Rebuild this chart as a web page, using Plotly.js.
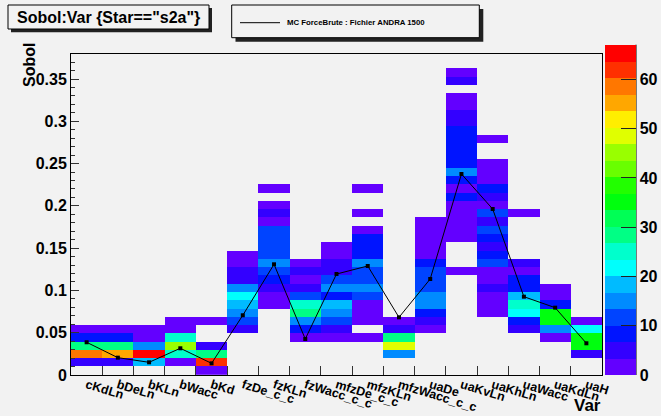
<!DOCTYPE html>
<html>
<head>
<meta charset="utf-8">
<script src="https://cdn.plot.ly/plotly-3.0.1.min.js"></script>
<style>
  html, body { margin: 0; padding: 0; background: #f2f2f2; }
  #chart { width: 661px; height: 416px; }
</style>
</head>
<body>
<div id="chart"></div>
<script>
// Variables on the x axis (one column each)
const vars = ['cKdLn', 'bDeLn', 'bKLn', 'bWacc', 'bKd', 'fzDe_c_c', 'fzKLn', 'fzWacc_c_c',
              'mfzDe_c_c', 'mfzKLn', 'mfzWacc_c_c', 'uaDe', 'uaKvLn', 'uaKhLn', 'uaWacc',
              'uaKdLn', 'uaH'];

// Sobol axis binning
const sobolBinWidth = 0.0098;
const nSobolBins = 39;

// Entries per Sobol bin, from bin 0 upward (null = empty bin)
const n_cKdLn      = [null, 5, 59, 28, 8, 2];
const n_bDeLn      = [null, 5, 55, 28, 8, 2];
const n_bKLn       = [null, 18, 65, 15, 2, 2];
const n_bWacc      = [null, 2, 25, 45, 25, 2, 2];
const n_bKd        = [2, 62, 28, 5, null, null, 2];
const n_fzDe_c_c   = [null, null, null, null, null, 5, 12, 15, 18, 22, 15, 5, 5, 2, 2];
const n_fzKLn      = [null, null, null, null, null, null, null, null, 2, 2, 5, 8, 12, 15, 12, 12, 12, 12, 2, 5, 2, null, 2];
const n_fzWacc_c_c = [null, null, null, null, 2, 8, 15, 28, 25, 12, 5, 2, 5, 2];
const n_mfzDe_c_c  = [null, null, null, null, 2, 5, 12, 15, 18, 8, 15, 12, 5, 5, 2, 2];
const n_mfzKLn     = [null, null, null, null, 2, null, 2, 2, 2, 12, 15, 12, 12, 15, 8, 8, 8, 2, null, 2, null, null, 2];
const n_mfzWacc_c_c= [null, null, 15, 49, 28, 5, 2];
const n_uaDe       = [null, null, null, null, null, 2, 5, 8, 15, 15, 12, 12, 12, 8, 2, 2, 2, 2, 2];
const n_uaKvLn     = [null, null, null, null, null, null, null, null, null, null, null, null, 2, null, null, null,
                      2, 2, 2, 2, 2, 8, 2, 8, 15, 8, 8, 8, 8, 8, 5, 5, 2, 2, null, 5, 2];
const n_uaKhLn     = [null, null, null, null, null, null, null, 2, 2, 2, 5, 2, 2, 12, 8, 5, 8, 12, 5, 12, 2, 5, 8, 2, 2, 2, null, null, 2];
const n_uaWacc     = [null, null, null, null, null, 5, 8, 22, 25, 18, 8, 8, 2, 5, null, null, null, null, null, 2];
const n_uaKdLn     = [null, null, null, null, 2, 15, 35, 35, 8, 2, 2];
const n_uaH        = [null, null, 5, 35, 35, 22, 2];

const countsByVar = [n_cKdLn, n_bDeLn, n_bKLn, n_bWacc, n_bKd, n_fzDe_c_c, n_fzKLn, n_fzWacc_c_c,
                     n_mfzDe_c_c, n_mfzKLn, n_mfzWacc_c_c, n_uaDe, n_uaKvLn, n_uaKhLn, n_uaWacc,
                     n_uaKdLn, n_uaH];

// MC ForceBrute reference values (one per variable)
const mcForceBrute = [0.0387, 0.0205, 0.0150, 0.0316, 0.0138, 0.0706, 0.1309, 0.0426, 0.1194,
                      0.1289, 0.0682, 0.1135, 0.2377, 0.1963, 0.0926, 0.0796, 0.0375];

const zMax = 67;
const colorTicks = [0, 10, 20, 30, 40, 50, 60];

// 20-level rainbow palette (violet -> red)
const palette = ['#6300ff', '#3300ff', '#0014ff', '#0044ff', '#008bff', '#00bbff', '#00fffc',
                 '#00ffcc', '#00ff85', '#00ff55', '#00ff0e', '#22ff00', '#69ff00', '#99ff00',
                 '#e0ff00', '#ffee00', '#ffa700', '#ff7700', '#ff3000', '#ff0000'];
const colorscale = [];
palette.forEach((c, i) => {
  colorscale.push([i / palette.length, c]);
  colorscale.push([(i + 1) / palette.length, c]);
});

// Build the 2D count matrix: rows = Sobol bins, columns = variables
const yCenters = [];
const z = [];
for (let k = 0; k < nSobolBins; k++) {
  yCenters.push((k + 0.5) * sobolBinWidth);
  z.push(countsByVar.map(col => (col[k] === undefined ? null : col[k])));
}

// Canvas geometry (pixels)
const W = 661, H = 416;
const FL = 71, FR = 602, FT = 54, FB = 375;
const px = x => (x - FL) / (FR - FL);
const py = y => (FB - y) / (FB - FT);
const bg = '#f2f2f2';
const bold = { family: 'Liberation Sans, Arial, sans-serif', weight: 'bold', color: '#000' };

const heat = {
  type: 'heatmap',
  x: vars,
  y: yCenters,
  z: z,
  zmin: 0,
  zmax: zMax,
  colorscale: colorscale,
  hoverongaps: false,
  hoverinfo: 'skip',
  xgap: 0, ygap: 0,
  colorbar: {
    xref: 'paper', yref: 'paper',
    x: px(605), xanchor: 'left', xpad: 0,
    y: 0, yanchor: 'bottom', ypad: 0,
    len: 330, lenmode: 'pixels',
    thickness: 31, thicknessmode: 'pixels',
    outlinewidth: 0,
    tickmode: 'array', tickvals: colorTicks, ticktext: colorTicks.map(String),
    ticks: 'inside', ticklen: 15, tickcolor: '#222', tickwidth: 1,
    tickfont: Object.assign({ size: 16 }, bold)
  }
};

const line = {
  type: 'scatter',
  mode: 'lines+markers',
  x: vars,
  y: mcForceBrute,
  line: { color: '#000', width: 1 },
  marker: { color: '#000', size: 4, symbol: 'square' },
  hoverinfo: 'skip',
  showlegend: false
};

const shapes = [
  // title box with shadow
  { type: 'rect', xref: 'paper', yref: 'paper', x0: px(11), x1: px(212), y0: py(8), y1: py(32.3),
    fillcolor: '#222', line: { width: 0 } },
  { type: 'rect', xref: 'paper', yref: 'paper', x0: px(8), x1: px(209), y0: py(5), y1: py(29),
    fillcolor: bg, line: { color: '#000', width: 1 } },
  // legend box with shadow
  { type: 'rect', xref: 'paper', yref: 'paper', x0: px(235.5), x1: px(483.3), y0: py(9), y1: py(41.7),
    fillcolor: '#222', line: { width: 0 } },
  { type: 'rect', xref: 'paper', yref: 'paper', x0: px(231.7), x1: px(479.3), y0: py(5), y1: py(37.7),
    fillcolor: bg, line: { color: '#000', width: 1 } },
  // legend sample line
  { type: 'line', xref: 'paper', yref: 'paper', x0: px(240), x1: px(280), y0: py(22.7), y1: py(22.7),
    line: { color: '#000', width: 1 } },
  // colour axis line
  { type: 'line', xref: 'paper', yref: 'paper', x0: px(636), x1: px(636), y0: py(44.7), y1: py(FB),
    line: { color: '#000', width: 1 } }
];

const annotations = [
  { text: 'Sobol:Var {Star=="s2a"}', xref: 'paper', yref: 'paper', x: px(108.5), y: py(17.5),
    xanchor: 'center', yanchor: 'middle', showarrow: false, font: Object.assign({ size: 16 }, bold) },
  { text: 'MC ForceBrute : Fichier ANDRA 1500', xref: 'paper', yref: 'paper', x: px(285), y: py(22.7),
    xanchor: 'left', yanchor: 'middle', showarrow: false, font: Object.assign({ size: 7.8 }, bold) },
  { text: 'Sobol', xref: 'paper', yref: 'paper', x: px(29), y: py(65), textangle: -90,
    xanchor: 'center', yanchor: 'middle', showarrow: false, font: Object.assign({ size: 16 }, bold) },
  { text: 'Var', xref: 'paper', yref: 'paper', x: px(587), y: py(405),
    xanchor: 'center', yanchor: 'middle', showarrow: false, font: Object.assign({ size: 17 }, bold) }
];

const layout = {
  width: W, height: H,
  margin: { l: FL, r: W - FR, t: FT, b: H - FB, pad: 0, autoexpand: false },
  paper_bgcolor: bg, plot_bgcolor: bg,
  showlegend: false,
  font: bold,
  xaxis: {
    type: 'category', range: [-0.5, vars.length - 0.5],
    showline: true, mirror: true, linecolor: '#000', linewidth: 1,
    ticks: 'inside', ticklen: 9, tickcolor: '#333', tickson: 'boundaries',
    tickangle: 17, tickfont: Object.assign({ size: 12.5 }, bold), ticklabelstandoff: -3,
    showgrid: false, zeroline: false, fixedrange: true, automargin: false
  },
  yaxis: {
    range: [0, (FB - FT) / 845.7],
    showline: true, mirror: true, linecolor: '#000', linewidth: 1,
    ticks: 'inside', ticklen: 8, tickcolor: '#333',
    tick0: 0, dtick: 0.05,
    minor: { dtick: 0.01, ticks: 'inside', ticklen: 4, tickcolor: '#333', showgrid: false },
    tickfont: Object.assign({ size: 16 }, bold),
    showgrid: false, zeroline: false, fixedrange: true, automargin: false
  },
  shapes: shapes,
  annotations: annotations
};

Plotly.newPlot('chart', [heat, line], layout, { displayModeBar: false, staticPlot: true });
</script>
</body>
</html>
